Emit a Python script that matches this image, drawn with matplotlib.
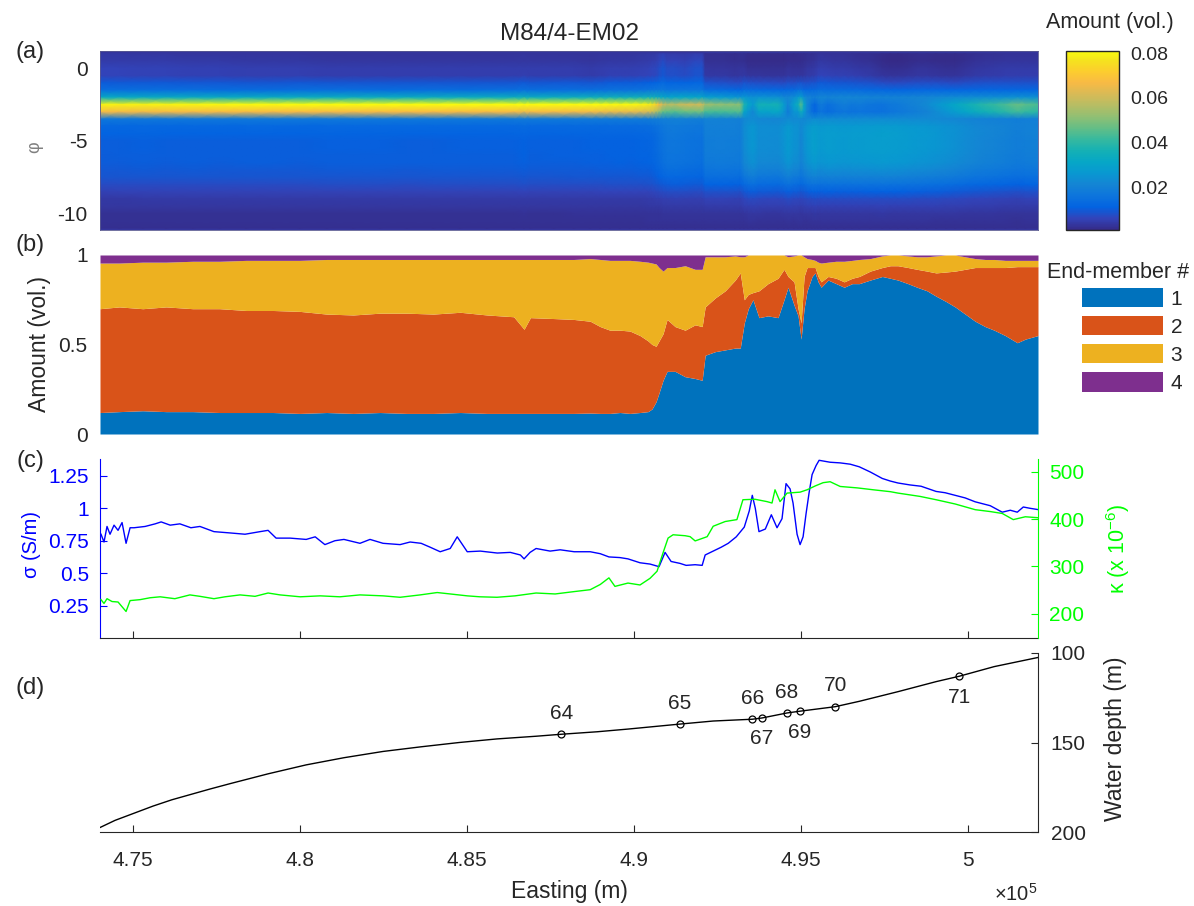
import numpy as np
import matplotlib
matplotlib.use('Agg')
import matplotlib.pyplot as plt
from matplotlib.colors import LinearSegmentedColormap, Normalize
from matplotlib.patches import Patch
from matplotlib.ticker import FuncFormatter

plt.rcParams['font.family'] = ['Liberation Sans', 'DejaVu Sans']
plt.rcParams['axes.unicode_minus'] = False
plt.rcParams['mathtext.fontset'] = 'custom'
plt.rcParams['mathtext.rm'] = 'Liberation Sans'
plt.rcParams['mathtext.it'] = 'Liberation Sans:italic'
plt.rcParams['mathtext.bf'] = 'Liberation Sans:bold'

# ---------------- data ----------------
x_limits = (474020, 502090)
x_ticks = [475000, 480000, 485000, 490000, 495000, 500000]

# (b) end-member abundances: cumulative tops of EM1, EM1+2, EM1+2+3
b_east = [474020, 474600, 475300, 476000, 476800, 477600, 478400, 479200, 480000, 480800,
          481600, 482400, 483200, 484000, 484800, 485600, 486400, 486710, 486900, 487600,
          488200,
          488690, 488990, 489280, 489580, 489880, 490180, 490420, 490540, 490660, 490750,
          490870, 490990, 491230, 491530, 491830, 492040, 492130, 492430, 492730, 493030,
          493180, 493300, 493420, 493560, 493740, 494010, 494310, 494490, 494610, 494790,
          494910, 495000, 495090, 495180, 495330, 495420, 495510, 495600, 495810, 496050,
          496290, 496530, 496740, 497070, 497430, 497670, 497900, 498200, 498470, 498770,
          499040, 499340, 499610, 499910, 500210, 500510, 500780, 501110, 501470, 501710,
          502090]
top_em1 = [0.12, 0.125, 0.13, 0.125, 0.125, 0.12, 0.12, 0.12, 0.115, 0.12,
           0.115, 0.12, 0.115, 0.115, 0.12, 0.115, 0.115, 0.115, 0.115, 0.115,
           0.115,
           0.117, 0.115, 0.115, 0.12, 0.115, 0.12, 0.125, 0.14, 0.18, 0.23,
           0.30, 0.35, 0.35, 0.32, 0.31, 0.30, 0.44, 0.46, 0.47, 0.48,
           0.48, 0.62, 0.70, 0.75, 0.65, 0.66, 0.65, 0.75, 0.82, 0.72,
           0.66, 0.53, 0.70, 0.80, 0.88, 0.90, 0.85, 0.82, 0.86, 0.84,
           0.82, 0.84, 0.84, 0.86, 0.88, 0.87, 0.86, 0.84, 0.82, 0.80,
           0.77, 0.74, 0.71, 0.67, 0.63, 0.60, 0.58, 0.55, 0.51, 0.53, 0.55]
top_em2 = [0.70, 0.71, 0.70, 0.71, 0.70, 0.70, 0.69, 0.69, 0.685, 0.67,
           0.665, 0.675, 0.675, 0.67, 0.68, 0.665, 0.655, 0.585, 0.65, 0.645,
           0.64,
           0.63, 0.60, 0.58, 0.58, 0.575, 0.55, 0.52, 0.50, 0.49, 0.52,
           0.56, 0.64, 0.60, 0.58, 0.61, 0.60, 0.71, 0.76, 0.80, 0.86,
           0.90, 0.75, 0.78, 0.79, 0.80, 0.84, 0.87, 0.92, 0.88, 0.85,
           0.70, 0.62, 0.88, 0.93, 0.93, 0.93, 0.88, 0.85, 0.88, 0.87,
           0.85, 0.87, 0.88, 0.91, 0.93, 0.94, 0.94, 0.93, 0.92, 0.91,
           0.90, 0.905, 0.91, 0.92, 0.93, 0.93, 0.93, 0.93, 0.935, 0.935, 0.935]
top_em3 = [0.955, 0.955, 0.96, 0.96, 0.965, 0.965, 0.97, 0.97, 0.97, 0.975,
           0.975, 0.975, 0.975, 0.975, 0.975, 0.975, 0.975, 0.975, 0.975, 0.975,
           0.975,
           0.98, 0.975, 0.97, 0.97, 0.97, 0.965, 0.96, 0.955, 0.95, 0.93,
           0.91, 0.93, 0.93, 0.94, 0.92, 0.92, 0.99, 0.99, 0.99, 0.995,
           0.99, 0.99, 1.0, 1.0, 1.0, 1.0, 1.0, 1.0, 0.99, 0.995,
           1.0, 1.0, 0.99, 0.98, 0.975, 0.97, 0.96, 0.955, 0.96, 0.965,
           0.965, 0.97, 0.975, 0.98, 0.995, 1.0, 1.0, 0.995, 0.99, 0.99,
           0.995, 1.0, 1.0, 0.99, 0.98, 0.975, 0.975, 0.97, 0.97, 0.97, 0.97]
em_labels = ['1', '2', '3', '4']
em_colors = ['#0072BD', '#D95319', '#EDB120', '#7E2F8E']

# (a) end-member grain-size spectra (amount per class) on the phi scale
phi = [1.0, 0.5, 0.0, -0.5, -1.0, -1.5, -2.0, -2.5, -3.0, -3.5, -4.0, -4.5, -5.0,
       -5.5, -6.0, -6.5, -7.0, -7.5, -8.0, -8.5, -9.0, -9.5, -10.0, -10.5, -11.0]
em1_spec = [0.001, 0.001, 0.002, 0.003, 0.007, 0.012, 0.018, 0.006, 0.008, 0.024, 0.030, 0.031, 0.031,
            0.031, 0.030, 0.029, 0.026, 0.022, 0.017, 0.012, 0.008, 0.006, 0.004, 0.003, 0.002]
em2_spec = [0.002, 0.002, 0.003, 0.003, 0.006, 0.010, 0.030, 0.095, 0.085, 0.014, 0.008, 0.007, 0.006,
            0.006, 0.006, 0.006, 0.006, 0.006, 0.005, 0.004, 0.003, 0.003, 0.002, 0.002, 0.002]
em3_spec = [0.003, 0.003, 0.004, 0.004, 0.012, 0.020, 0.045, 0.090, 0.060, 0.022, 0.015, 0.013, 0.012,
            0.012, 0.012, 0.012, 0.011, 0.010, 0.009, 0.007, 0.005, 0.004, 0.003, 0.003, 0.002]
em4_spec = [0.040, 0.060, 0.070, 0.070, 0.060, 0.045, 0.030, 0.020, 0.012, 0.010, 0.008, 0.006, 0.005,
            0.005, 0.005, 0.005, 0.004, 0.004, 0.004, 0.003, 0.003, 0.003, 0.002, 0.002, 0.002]
cbar_ticks = [0.02, 0.04, 0.06, 0.08]

# (c) electrical conductivity sigma (S/m)
sig_east = [474050, 474140, 474230, 474320, 474440, 474560, 474680, 474800, 474920, 475040,
            475370, 475670, 475850, 476120, 476410, 476740, 477010, 477430, 477910, 478360,
            478810, 479050, 479290, 479710, 480190, 480460, 480750, 481050, 481320, 481800,
            482100, 482490, 483000, 483300, 483630, 483900, 484200, 484500, 484710, 485010,
            485400, 485910, 486300, 486600, 486710, 486890, 487070, 487490, 487790, 488210,
            488690, 488990, 489250, 489580, 489820, 490180, 490480, 490750, 490930, 491110,
            491380, 491560, 491830, 492040, 492130, 492370, 492610, 492820, 493060, 493300,
            493450, 493540, 493630, 493740, 493930, 494110, 494280, 494430, 494550, 494670,
            494760, 494880, 494970, 495060, 495150, 495240, 495330, 495450, 495540, 495870,
            496170, 496470, 496740, 497070, 497430, 497670, 497900, 498260, 498590, 499040,
            499310, 499610, 499910, 500210, 500660, 501020, 501260, 501470, 501650, 501850,
            502090]
sig_val = [0.80, 0.74, 0.86, 0.80, 0.87, 0.83, 0.89, 0.73, 0.85, 0.85,
           0.86, 0.88, 0.895, 0.87, 0.88, 0.85, 0.86, 0.82, 0.81, 0.80,
           0.82, 0.83, 0.77, 0.77, 0.76, 0.78, 0.72, 0.75, 0.76, 0.73,
           0.76, 0.73, 0.72, 0.74, 0.73, 0.70, 0.665, 0.69, 0.78, 0.665,
           0.67, 0.655, 0.66, 0.64, 0.61, 0.66, 0.69, 0.67, 0.68, 0.665,
           0.665, 0.65, 0.625, 0.62, 0.61, 0.58, 0.57, 0.55, 0.66, 0.59,
           0.575, 0.56, 0.565, 0.56, 0.64, 0.67, 0.70, 0.73, 0.78, 0.855,
           0.98, 1.10, 1.00, 0.82, 0.84, 0.95, 0.85, 0.92, 1.19, 1.15,
           1.04, 0.80, 0.72, 0.78, 0.96, 1.12, 1.26, 1.33, 1.37, 1.355,
           1.35, 1.34, 1.32, 1.28, 1.23, 1.21, 1.195, 1.18, 1.17, 1.13,
           1.12, 1.10, 1.08, 1.05, 1.02, 0.97, 0.985, 0.97, 1.01, 1.00,
           0.99]

# (c) magnetic susceptibility kappa (x 10^-6)
kap_east = [474050, 474140, 474230, 474380, 474560, 474680, 474800, 474920, 475220, 475520,
            475820, 476260, 476710, 477010, 477430, 477760, 478210, 478660, 479050, 479410,
            480010, 480610, 481200, 481800, 482490, 483000, 483600, 484110, 484500, 485010,
            485390, 485900, 486440, 487070, 487640, 488210, 488690, 488990, 489250, 489430,
            489820, 490180, 490480, 490690, 490870, 491020, 491170, 491530, 491680, 491830,
            492190, 492370, 492730, 493080, 493260, 493620, 493980, 494130, 494220, 494370,
            494580, 494970, 495180, 495420, 495660, 495870, 496170, 496680, 497160, 497670,
            497900, 498560, 499040, 499610, 500210, 500660, 501020, 501350, 501710, 502090]
kap_val = [230, 222, 232, 226, 225, 215, 205, 228, 230, 234,
           236, 232, 240, 237, 232, 236, 240, 237, 244, 240,
           236, 238, 236, 240, 238, 235, 240, 245, 242, 238,
           236, 235, 238, 244, 242, 247, 251, 262, 276, 258,
           265, 261, 275, 290, 329, 360, 367, 365, 363, 354,
           363, 385, 395, 399, 441, 442, 437, 434, 462, 437,
           455, 457, 462, 470, 477, 479, 469, 466, 462, 458,
           455, 448, 441, 432, 420, 416, 412, 399, 405, 403]

# (d) water depth (m) along the profile and sample stations
dep_east = [474020, 474470, 475040, 475610, 476170, 476740, 477310, 477910, 479050, 480190,
            481320, 482490, 483630, 484770, 485900, 487070, 487820, 488900, 489820, 491380,
            492370, 493540, 493830, 494580, 494970, 496020, 496740, 497900, 499040, 499730,
            500780, 502090]
dep_val = [197.5, 193.5, 189.5, 185.5, 182.0, 179.0, 176.0, 173.0, 167.5, 162.5,
           158.5, 155.0, 152.4, 150.0, 148.0, 146.5, 145.4, 144.0, 142.5, 139.7,
           138.0, 137.0, 136.3, 133.5, 132.5, 130.0, 127.0, 121.6, 116.0, 113.0,
           107.6, 102.5]
st_names = ['64', '65', '66', '67', '68', '69', '70', '71']
st_east = [487820, 491380, 493540, 493830, 494580, 494970, 496020, 499730]
st_depth = [145.4, 139.7, 137.0, 136.3, 133.5, 132.5, 130.0, 113.0]
st_above = [True, True, True, False, True, False, True, False]

# parula colormap anchors
parula_rgb = [[0.2081, 0.1663, 0.5292], [0.1959, 0.2645, 0.7279], [0.0117, 0.3875, 0.8820],
              [0.0498, 0.4586, 0.8641], [0.0793, 0.5200, 0.8312], [0.0343, 0.5966, 0.8199],
              [0.0228, 0.6535, 0.7768], [0.0843, 0.6928, 0.7062], [0.2178, 0.7250, 0.6193],
              [0.3953, 0.7459, 0.5244], [0.5709, 0.7485, 0.4494], [0.7184, 0.7411, 0.3905],
              [0.8507, 0.7299, 0.3360], [0.9739, 0.7314, 0.2666], [0.9880, 0.8066, 0.1794],
              [0.9589, 0.8949, 0.1132], [0.9763, 0.9831, 0.0538]]
parula_pos = [0, 4, 8, 12, 16, 20, 24, 28, 32, 36, 40, 44, 48, 52, 56, 60, 63]

# ---------------- figure ----------------
TXT = '#262626'
W, H = 1194, 906
fig = plt.figure(figsize=(W / 100, H / 100), dpi=100)


def box(x0, y0, x1, y1):
    return [x0 / W, 1 - y1 / H, (x1 - x0) / W, (y1 - y0) / H]


parula = LinearSegmentedColormap.from_list(
    'parula', list(zip([p / 63 for p in parula_pos], parula_rgb)))

ax_a = fig.add_axes(box(100, 51, 1038, 230))
ax_b = fig.add_axes(box(100, 255, 1038, 434))
ax_c = fig.add_axes(box(100, 459, 1038, 638))
ax_d = fig.add_axes(box(100, 653, 1038, 832))
cax = fig.add_axes(box(1066, 51, 1119, 230))

TICK = 15
LAB = 16.5

xe = np.array(b_east, dtype=float)
t1 = np.array(top_em1)
t2 = np.array(top_em2)
t3 = np.array(top_em3)
abund = np.vstack([t1, t2 - t1, t3 - t2, 1 - t3])

# (a) grain-size distribution map
spec = np.vstack([em1_spec, em2_spec, em3_spec, em4_spec])
gsd = spec.T @ abund
norm = Normalize(0.001, 0.081)
mesh = ax_a.pcolormesh(xe, phi, gsd, shading='gouraud', cmap=parula, norm=norm)
ax_a.set_facecolor(parula(0.03))
ax_a.set_xlim(*x_limits)
ax_a.set_ylim(-11.13, 1.19)
ax_a.set_yticks([0, -5, -10])
ax_a.set_yticklabels(['0', '-5', '-10'])
ax_a.set_xticks([])
ax_a.tick_params(axis='y', length=0, pad=9, labelsize=TICK, colors=TXT)
for s in ax_a.spines.values():
    s.set_color('#5a5a90')
    s.set_linewidth(0.6)
ax_a.set_ylabel('φ', fontsize=13, color='#808080')
ax_a.yaxis.set_label_coords(-0.070, 0.46)
ax_a.yaxis.label.set_verticalalignment('center')
ax_a.set_title('M84/4-EM02', fontsize=17.5, color=TXT, pad=8)

cb = fig.colorbar(mesh, cax=cax, ticks=cbar_ticks)
cb.ax.set_yticklabels([f'{t:.2f}' for t in cbar_ticks])
cb.ax.tick_params(length=0, pad=8, labelsize=14, colors=TXT)
cb.outline.set_linewidth(1.0)
cb.outline.set_edgecolor('#262626')
cax.text(0.83, 1.16, 'Amount (vol.)', transform=cax.transAxes, ha='center', va='center',
         fontsize=15.5, color=TXT)

# (b) stacked end-member amounts
ax_b.fill_between(xe, 0, t1, color=em_colors[0], lw=0, label=em_labels[0])
ax_b.fill_between(xe, t1, t2, color=em_colors[1], lw=0, label=em_labels[1])
ax_b.fill_between(xe, t2, t3, color=em_colors[2], lw=0, label=em_labels[2])
ax_b.fill_between(xe, t3, 1, color=em_colors[3], lw=0, label=em_labels[3])
ax_b.set_xlim(*x_limits)
ax_b.set_ylim(0, 1)
ax_b.set_yticks([0, 0.5, 1])
ax_b.set_yticklabels(['0', '0.5', '1'])
ax_b.set_xticks([])
ax_b.tick_params(axis='y', length=0, pad=9, labelsize=TICK, colors=TXT)
for s in ax_b.spines.values():
    s.set_visible(False)
ax_b.set_ylabel('Amount (vol.)', fontsize=LAB, color=TXT)
ax_b.yaxis.set_label_coords(-0.065, 0.5)
ax_b.yaxis.label.set_verticalalignment('center')

handles = [Patch(facecolor=c, edgecolor='none') for c in em_colors]
leg = fig.legend(handles, em_labels, loc='upper left',
                 bbox_to_anchor=(1082 / W, 1 - 288 / H), frameon=False,
                 fontsize=15, handlelength=3.9, handleheight=1.05,
                 labelspacing=0.35, handletextpad=0.35, borderaxespad=0, borderpad=0)
for t in leg.get_texts():
    t.set_color(TXT)
fig.text(1047 / W, 1 - 272 / H, 'End-member #', ha='left', va='center',
         fontsize=15.5, color=TXT)

# formatter for easting
efmt = FuncFormatter(lambda v, p: f'{v / 1e5:g}')

# (c) sigma and kappa
BLUE = (0, 0, 1)
GREEN = (0, 1, 0)
ax_c.plot(sig_east, sig_val, color=BLUE, lw=1.0)
ax_c.set_xlim(*x_limits)
ax_c.set_ylim(0, 1.38)
ax_c.set_yticks([0.25, 0.5, 0.75, 1.0, 1.25])
ax_c.set_yticklabels(['0.25', '0.5', '0.75', '1', '1.25'])
ax_c.set_xticks(x_ticks)
ax_c.tick_params(axis='x', direction='in', length=5, labelbottom=False, color=TXT)
ax_c.tick_params(axis='y', direction='in', length=5, pad=8, labelsize=TICK,
                 colors=BLUE)
ax_c.spines['top'].set_visible(False)
ax_c.spines['right'].set_visible(False)
ax_c.spines['left'].set_color(BLUE)
ax_c.spines['bottom'].set_color(TXT)
ax_c.set_ylabel('σ (S/m)', fontsize=14.5, color=BLUE)
ax_c.yaxis.set_label_coords(-0.073, 0.52)
ax_c.yaxis.label.set_verticalalignment('center')

ax_c2 = ax_c.twinx()
ax_c2.plot(kap_east, kap_val, color=GREEN, lw=1.0)
ax_c2.set_xlim(*x_limits)
ax_c2.set_ylim(149, 527)
ax_c2.set_yticks([200, 300, 400, 500])
ax_c2.tick_params(axis='y', direction='in', length=5, pad=8, labelsize=TICK,
                  colors=GREEN)
for k in ['top', 'left', 'bottom']:
    ax_c2.spines[k].set_visible(False)
ax_c2.spines['right'].set_color(GREEN)
ax_c2.set_ylabel('κ (x 10$^{-6}$)', fontsize=15.5, color=GREEN)
ax_c2.yaxis.set_label_coords(1.085, 0.5)
ax_c2.yaxis.label.set_verticalalignment('center')

# (d) water depth
ax_d.plot(dep_east, dep_val, color='black', lw=1.0)
ax_d.plot(st_east, st_depth, 'o', mfc='none', mec='black', ms=5, mew=0.9)
for name, xs, ys, up in zip(st_names, st_east, st_depth, st_above):
    ax_d.annotate(name, (xs, ys), xytext=(0, 15 if up else -15), textcoords='offset points',
                  ha='center', va='center', fontsize=TICK, color=TXT)
ax_d.set_xlim(*x_limits)
ax_d.set_ylim(200, 100)
ax_d.set_yticks([100, 150, 200])
ax_d.set_xticks(x_ticks)
ax_d.xaxis.set_major_formatter(efmt)
ax_d.yaxis.tick_right()
ax_d.yaxis.set_label_position('right')
ax_d.tick_params(axis='both', direction='in', length=5, labelsize=TICK, colors=TXT)
ax_d.tick_params(axis='x', pad=14)
ax_d.tick_params(axis='y', pad=9)
ax_d.spines['top'].set_visible(False)
ax_d.spines['left'].set_visible(False)
ax_d.spines['bottom'].set_color(TXT)
ax_d.spines['right'].set_color(TXT)
ax_d.set_ylabel('Water depth (m)', fontsize=LAB, color=TXT)
ax_d.yaxis.set_label_coords(1.083, 0.52)
ax_d.yaxis.label.set_verticalalignment('center')
ax_d.set_xlabel('Easting (m)', fontsize=LAB, color=TXT)
ax_d.xaxis.set_label_coords(0.5, -0.27)
ax_d.text(1.0, -0.285, '×10$^{5}$', transform=ax_d.transAxes, ha='right', va='top',
          fontsize=14.5, color=TXT)

# panel letters
for lab, yp in [('(a)', 52), ('(b)', 245), ('(c)', 461), ('(d)', 688)]:
    fig.text(30 / W, 1 - yp / H, lab, ha='center', va='center', fontsize=17, color=TXT)

fig.savefig('out.png', dpi=100)
